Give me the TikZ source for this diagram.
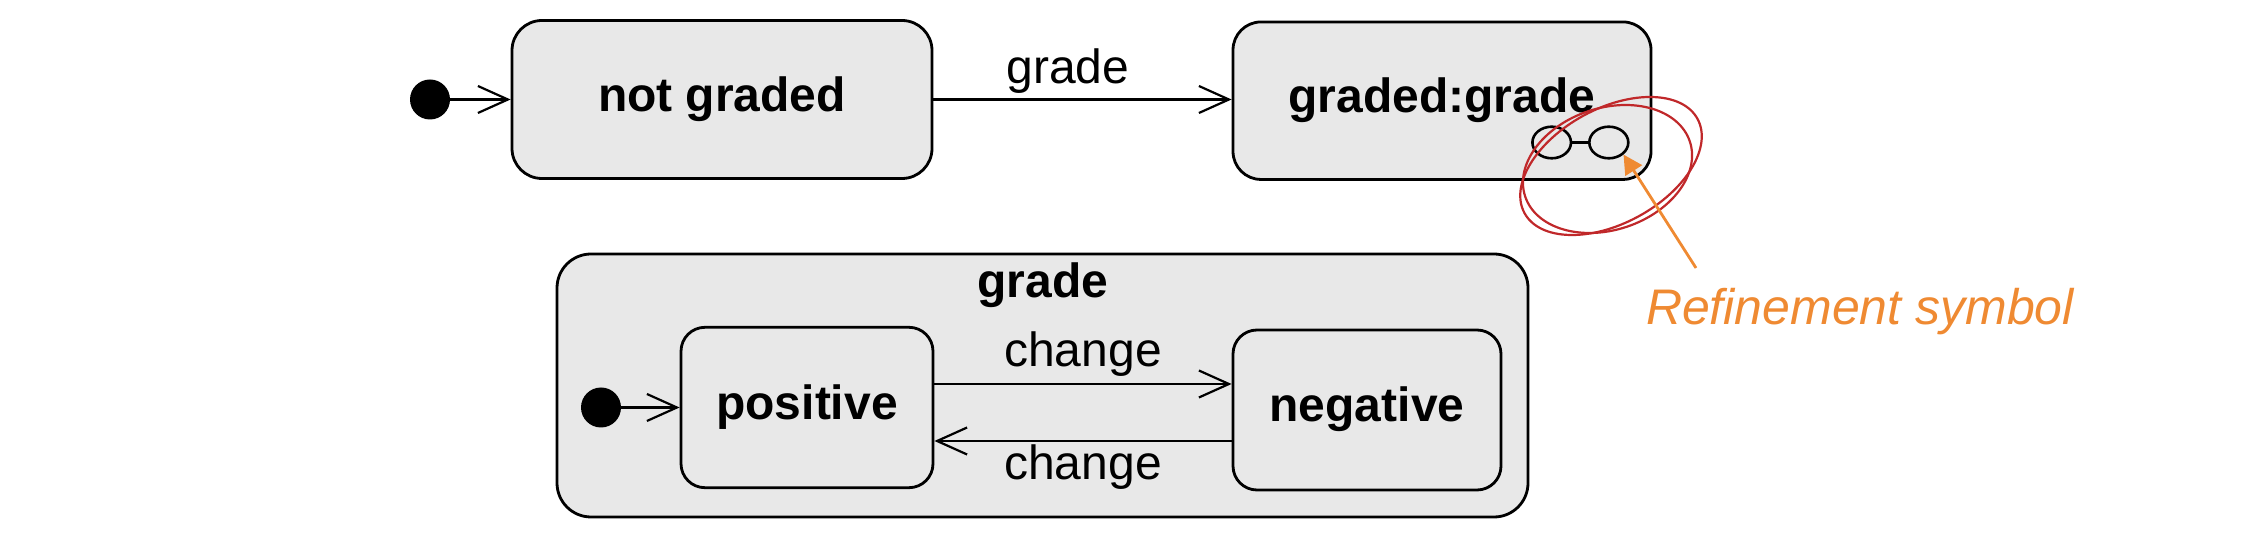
\documentclass[tikz,border=0pt]{standalone}
\usepackage{fontspec}
\setmainfont{Liberation Sans}
\usetikzlibrary{arrows.meta,shapes.geometric}
\definecolor{boxfill}{HTML}{E8E8E8}
\definecolor{noteorange}{HTML}{EF8A32}
\definecolor{notered}{HTML}{C0282A}
\begin{document}
\begin{tikzpicture}[x=0.5pt,y=-0.5pt,
  state/.style={draw=black, line width=1.4pt, fill=boxfill, rounded corners=15pt,
    inner sep=0pt, font=\fontsize{24}{29}\selectfont\bfseries,
    text height=16.6pt, text depth=5pt},
  initdot/.style={circle, fill=black, inner sep=0pt, minimum size=20pt},
  trans/.style={draw=black, line width=1.1pt,
    -{Straight Barb[length=15pt,width=13.5pt,line width=1.1pt]}},
  tlabel/.style={font=\fontsize{24}{29}\selectfont, inner sep=0pt, anchor=base},
  refsym/.style={draw=black, ellipse, line width=1.3pt, inner sep=0pt},
  penloop/.style={draw=notered, line width=1.1pt}]
\useasboundingbox (0,0) rectangle (2248,533);

% top row
\node[initdot] (i1) at (430,99.5) {};
\node[state, minimum width=210pt, minimum height=79pt] (ng) at (722,99.5) {not graded};
\node[state, rounded corners=14pt, minimum width=209pt, minimum height=78.75pt] (gd) at (1442,100.7) {graded:grade};
\draw[trans] (i1) -- (ng);
\draw[trans] (ng.east) -- (ng.east -| gd.west);
\node[tlabel] (lgrade) at (1068,84) {grade};

% refinement symbol
\node[refsym, minimum width=19.3pt, minimum height=15.8pt] (lre) at (1551.7,142.5) {};
\node[refsym, minimum width=19.5pt, minimum height=15.8pt] (rre) at (1608.8,142.5) {};
\draw[line width=1.3pt] (lre) -- (rre);

% composite state
\node[state, rounded corners=17pt, minimum width=485.5pt, minimum height=131.5pt] (grade) at (1042.5,385.5) {};
\node[font=\fontsize{24}{29}\selectfont\bfseries, inner sep=0pt, anchor=base] (gradetitle) at (1043,298) {grade};
\node[initdot] (i2) at (601,407.5) {};
\node[state, rounded corners=12pt, minimum width=126pt, minimum height=80.2pt] (pos) at (807,407.5) {positive};
\node[state, rounded corners=12pt, minimum width=134pt, minimum height=80pt] (neg) at (1367,410) {negative};
\draw[trans] (i2) -- (pos);
\coordinate (p1) at ([yshift=11.75pt]pos.east);
\coordinate (p2) at ([yshift=-16.75pt]pos.east);
\draw[trans] (p1) -- (p1 -| neg.west);
\draw[trans] (p2 -| neg.west) -- (p2);
\node[tlabel] (lch1) at (1083,367) {change};
\node[tlabel] (lch2) at (1083,480) {change};

% hand-drawn annotation
\draw[penloop, rotate around={28.6:(1611,166)}] (1611,166) ellipse [x radius=49.25pt, y radius=28.7pt];
\draw[penloop, rotate around={18.5:(1607.5,169)}] (1607.5,169) ellipse [x radius=43.4pt, y radius=30.45pt];
\coordinate (notetail) at (1696,268);
\draw[noteorange, line width=1.4pt, -{Triangle[length=9.5pt,width=9.7pt]}] (notetail) -- (rre.south east);
\node[text=noteorange, font=\fontsize{25}{30}\selectfont\itshape, inner sep=0pt, anchor=base] (notetext) at (1860,325) {Refinement symbol};
\end{tikzpicture}
\end{document}
